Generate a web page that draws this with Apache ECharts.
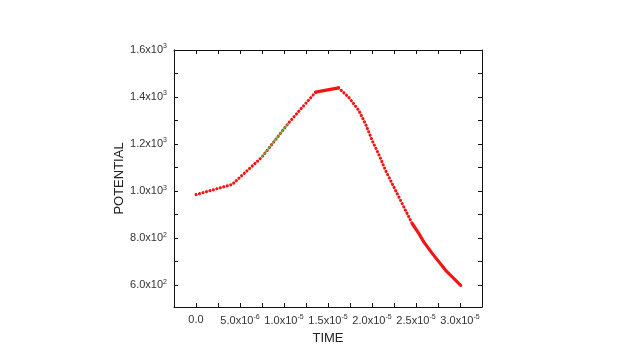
<!DOCTYPE html>
<html>
<head>
<meta charset="utf-8">
<script src="https://cdn.jsdelivr.net/npm/echarts@6/dist/echarts.min.js"></script>
<style>
  html, body { margin: 0; padding: 0; background: #fff; }
  #chart { width: 640px; height: 360px; }
</style>
</head>
<body>
<div id="chart"></div>
<script>
// time in units of 1e-6 s, potential
const timeRise = [0, 4.1, 7.5, 10.5, 13.6];
const potRise = [985, 1028, 1145, 1289, 1421];
const timeTop = [13.6, 16.2];
const potTop = [1421, 1439];
const timeFall = [16.2, 17.35, 18.5, 19.26, 20.02, 20.77, 21.54, 22.3, 23.05, 23.81, 24.58];
const potFall = [1439, 1399, 1343, 1286, 1215, 1156, 1088, 1031, 975, 918, 861];
const timeTail = [24.58, 25.33, 25.9, 26.86, 28.37, 30.08];
const potTail = [861, 819, 783, 734, 663, 599];
// green fit segment drawn over the dots
const fitTime = [7.5, 10.5];
const fitPot = [1145, 1289];

const yTicks = [600, 700, 800, 900, 1000, 1100, 1200, 1300, 1400, 1500, 1600];
const yLabels = [600, 800, 1000, 1200, 1400, 1600];

const RED = '#f41414';
const pairs = (xs, ys) => xs.map((x, i) => [x, ys[i]]);

const richStyle = {
    b: { fontSize: 11, color: '#333', fontFamily: 'Liberation Sans, Arial, sans-serif' },
    s: { fontSize: 7, color: '#333', fontFamily: 'Liberation Sans, Arial, sans-serif', padding: [0, 0, 7, 0] }
};

function xLabel(v) {
    const k = Math.round(v / 2.5);
    if (k % 2 !== 0 || k < 0) return '';
    if (k === 0) return '{b|0.0}';
    if (v < 10) return '{b|' + v.toFixed(1) + 'x10}{s|-6}';
    return '{b|' + (v / 10).toFixed(1) + 'x10}{s|-5}';
}

function yLabel(v) {
    if (v >= 1000) return '{b|' + (v / 1000).toFixed(1) + 'x10}{s|3}';
    return '{b|' + (v / 100).toFixed(1) + 'x10}{s|2}';
}

function dotted(xs, ys) {
    return {
        type: 'line', data: pairs(xs, ys), showSymbol: false, silent: true,
        lineStyle: { color: RED, width: 3.1, type: [0.1, 3.5], cap: 'round' },
        xAxisIndex: 0, yAxisIndex: 0
    };
}

function solid(xs, ys) {
    return {
        type: 'line', data: pairs(xs, ys), showSymbol: false, silent: true,
        lineStyle: { color: RED, width: 3.2, cap: 'round', join: 'round' },
        xAxisIndex: 0, yAxisIndex: 0
    };
}

const tickStyle = { inside: true, length: 4, lineStyle: { color: '#111', width: 1 } };
const lineStyle = { show: true, onZero: false, lineStyle: { color: '#111', width: 1 } };

const option = {
    backgroundColor: '#fff',
    animation: false,
    grid: { left: 174, right: 158, top: 50, bottom: 53 },
    xAxis: [
        {
            type: 'value', min: -2.5, max: 32.5, interval: 2.5,
            position: 'bottom',
            name: 'TIME', nameLocation: 'middle', nameGap: 25,
            nameTextStyle: { fontSize: 13, color: '#222', fontFamily: 'Liberation Sans, Arial, sans-serif' },
            axisLine: lineStyle, axisTick: tickStyle,
            axisLabel: { formatter: xLabel, rich: richStyle, margin: 7 },
            splitLine: { show: false }
        },
        {
            type: 'value', min: -2.5, max: 32.5, interval: 2.5,
            position: 'top',
            axisLine: lineStyle, axisTick: tickStyle,
            axisLabel: { show: false }, splitLine: { show: false }
        }
    ],
    yAxis: [
        {
            type: 'value', min: 507, max: 1600,
            position: 'left',
            name: 'POTENTIAL', nameLocation: 'middle', nameGap: 44, nameRotate: 90,
            nameTextStyle: { fontSize: 13, color: '#222', fontFamily: 'Liberation Sans, Arial, sans-serif' },
            axisLine: lineStyle,
            axisTick: Object.assign({ customValues: yTicks }, tickStyle),
            axisLabel: { customValues: yLabels, formatter: yLabel, rich: richStyle, margin: 7 },
            splitLine: { show: false }
        },
        {
            type: 'value', min: 507, max: 1600,
            position: 'right',
            axisLine: lineStyle,
            axisTick: Object.assign({ customValues: yTicks }, tickStyle),
            axisLabel: { show: false }, splitLine: { show: false }
        }
    ],
    series: [
        dotted(timeRise, potRise),
        solid(timeTop, potTop),
        dotted(timeFall, potFall),
        solid(timeTail, potTail),
        {
            type: 'line', data: pairs(fitTime, fitPot), showSymbol: false, silent: true,
            lineStyle: { color: '#3cc83c', width: 1.2 }, z: 5
        }
    ]
};

echarts.init(document.getElementById('chart')).setOption(option);
</script>
</body>
</html>
